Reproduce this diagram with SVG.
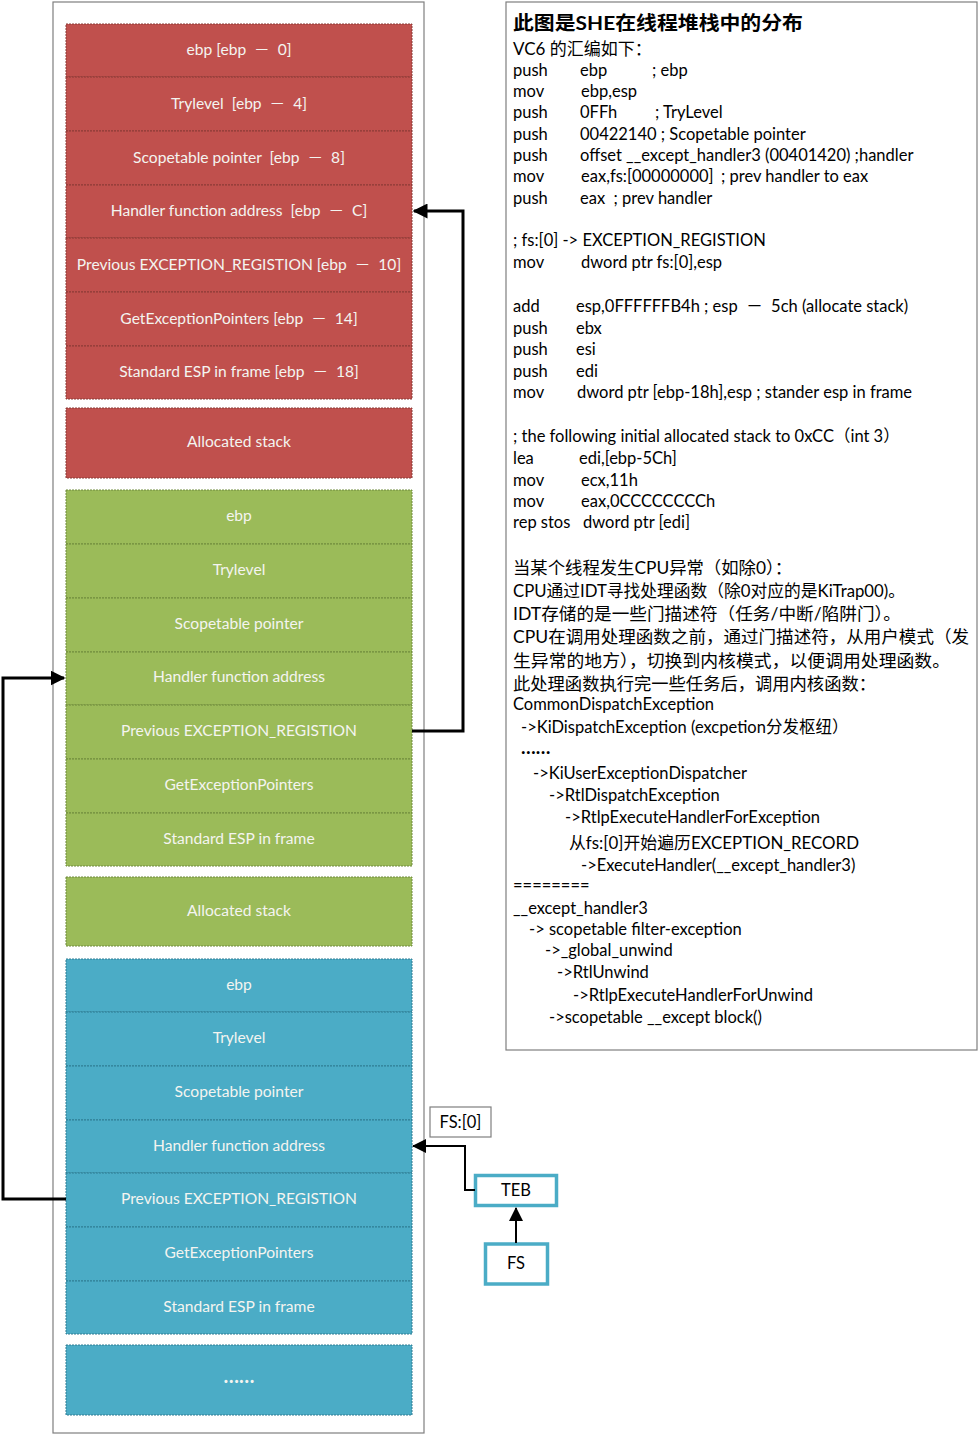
<svg xmlns="http://www.w3.org/2000/svg" width="979" height="1435" viewBox="0 0 979 1435">
<style>
.frame{fill:#fff;stroke:#7f7f7f;stroke-width:1.2}
.r{fill:#C0504D;stroke:#8a3a37;stroke-width:1;stroke-dasharray:2 1}
.g{fill:#9BBB59;stroke:#6f8a3c;stroke-width:1;stroke-dasharray:2 1}
.b{fill:#4BACC6;stroke:#2f7d93;stroke-width:1;stroke-dasharray:2 1}
.ct{font-family:Lato,"Liberation Sans","Noto Sans CJK SC",sans-serif;font-size:15.6px;fill:#F4F4F0;text-anchor:middle;white-space:pre}
.t{font-family:Lato,"Liberation Sans","Noto Sans CJK SC",sans-serif;font-size:16.5px;fill:#000;white-space:pre}
.cn{font-family:Lato,"Noto Sans CJK SC",sans-serif;font-size:17px;fill:#000;white-space:pre}
.conn{fill:none;stroke:#000;stroke-width:3}
.conn2{fill:none;stroke:#000;stroke-width:2}
.tb{fill:#fff;stroke:#4BACC6;stroke-width:3.5}
</style>
<defs>
<marker id="ah" markerWidth="5" markerHeight="5" refX="4.5" refY="2.5" orient="auto" markerUnits="strokeWidth" viewBox="0 0 5 5"><path d="M0,0 L5,2.5 L0,5 z" fill="#000"/></marker>
<marker id="ah2" markerWidth="7" markerHeight="7" refX="6.5" refY="3.5" orient="auto" markerUnits="strokeWidth" viewBox="0 0 7 7"><path d="M0,0 L7,3.5 L0,7 z" fill="#000"/></marker>
</defs>
<rect class="frame" x="53" y="2" width="371" height="1431"/>
<rect class="frame" x="506" y="2" width="471" height="1048"/>

<g id="red-ebp"><rect class="r" x="66" y="24" width="346" height="53"/><text class="ct" x="239" y="55">ebp [ebp  －  0]</text></g>
<g id="red-trylevel"><rect class="r" x="66" y="77" width="346" height="54"/><text class="ct" x="239" y="109">Trylevel  [ebp  －  4]</text></g>
<g id="red-scopetable"><rect class="r" x="66" y="131" width="346" height="54"/><text class="ct" x="239" y="163">Scopetable pointer  [ebp  －  8]</text></g>
<g id="red-handler"><rect class="r" x="66" y="185" width="346" height="53"/><text class="ct" x="239" y="216">Handler function address  [ebp  －  C]</text></g>
<g id="red-prev"><rect class="r" x="66" y="238" width="346" height="54"/><text class="ct" x="239" y="270">Previous EXCEPTION_REGISTION [ebp  －  10]</text></g>
<g id="red-getexc"><rect class="r" x="66" y="292" width="346" height="54"/><text class="ct" x="239" y="324">GetExceptionPointers [ebp  －  14]</text></g>
<g id="red-esp"><rect class="r" x="66" y="346" width="346" height="53"/><text class="ct" x="239" y="377">Standard ESP in frame [ebp  －  18]</text></g>
<g id="red-alloc"><rect class="r" x="66" y="408" width="346" height="70"/><text class="ct" x="239" y="447">Allocated stack</text></g>

<g id="green-ebp"><rect class="g" x="66" y="490" width="346" height="54"/><text class="ct" x="239" y="521">ebp</text></g>
<g id="green-trylevel"><rect class="g" x="66" y="544" width="346" height="54"/><text class="ct" x="239" y="575">Trylevel</text></g>
<g id="green-scopetable"><rect class="g" x="66" y="598" width="346" height="54"/><text class="ct" x="239" y="629">Scopetable pointer</text></g>
<g id="green-handler"><rect class="g" x="66" y="652" width="346" height="53"/><text class="ct" x="239" y="682">Handler function address</text></g>
<g id="green-prev"><rect class="g" x="66" y="705" width="346" height="54"/><text class="ct" x="239" y="736">Previous EXCEPTION_REGISTION</text></g>
<g id="green-getexc"><rect class="g" x="66" y="759" width="346" height="54"/><text class="ct" x="239" y="790">GetExceptionPointers</text></g>
<g id="green-esp"><rect class="g" x="66" y="813" width="346" height="53"/><text class="ct" x="239" y="844">Standard ESP in frame</text></g>
<g id="green-alloc"><rect class="g" x="66" y="877" width="346" height="69"/><text class="ct" x="239" y="916">Allocated stack</text></g>

<g id="blue-ebp"><rect class="b" x="66" y="959" width="346" height="53"/><text class="ct" x="239" y="990">ebp</text></g>
<g id="blue-trylevel"><rect class="b" x="66" y="1012" width="346" height="54"/><text class="ct" x="239" y="1043">Trylevel</text></g>
<g id="blue-scopetable"><rect class="b" x="66" y="1066" width="346" height="54"/><text class="ct" x="239" y="1097">Scopetable pointer</text></g>
<g id="blue-handler"><rect class="b" x="66" y="1120" width="346" height="53"/><text class="ct" x="239" y="1151">Handler function address</text></g>
<g id="blue-prev"><rect class="b" x="66" y="1173" width="346" height="54"/><text class="ct" x="239" y="1204">Previous EXCEPTION_REGISTION</text></g>
<g id="blue-getexc"><rect class="b" x="66" y="1227" width="346" height="54"/><text class="ct" x="239" y="1258">GetExceptionPointers</text></g>
<g id="blue-esp"><rect class="b" x="66" y="1281" width="346" height="53"/><text class="ct" x="239" y="1312">Standard ESP in frame</text></g>
<g id="blue-more"><rect class="b" x="66" y="1345" width="346" height="70"/><text class="ct" x="239" y="1383" style="font-weight:bold;font-size:20px">……</text></g>

<g id="fs0-label"><rect x="430" y="1107" width="61" height="30" fill="#fff" stroke="#7f7f7f" stroke-width="1.2"/><text class="t" x="460.5" y="1128" text-anchor="middle" font-size="15.5">FS:[0]</text></g>
<g id="teb"><rect class="tb" x="475.5" y="1175.5" width="81" height="30"/><text class="t" x="516" y="1196" text-anchor="middle" fill="#1f3b4d" font-size="15.5">TEB</text></g>
<g id="fs"><rect class="tb" x="485.5" y="1244" width="62" height="40"/><text class="t" x="516" y="1269" text-anchor="middle" fill="#1f3b4d" font-size="15.5">FS</text></g>

<g id="connectors">
<path class="conn" d="M412,731 H463 V211 H414" marker-end="url(#ah)"/>
<path class="conn" d="M66,1199 H3 V678 H64" marker-end="url(#ah)"/>
<path class="conn2" d="M475,1190 H465 V1146 H413" marker-end="url(#ah2)"/>
<path class="conn2" d="M516,1243 V1208" marker-end="url(#ah2)"/>
</g>

<g id="notes">
<text x="513" y="30" font-family="Lato,'Noto Sans CJK SC',sans-serif" font-size="19" font-weight="bold" textLength="290" lengthAdjust="spacingAndGlyphs">此图是SHE在线程堆栈中的分布</text>
<text class="cn" x="513" y="55" font-size="16">VC6 的汇编如下：</text>
<text class="t" y="76"><tspan x="513">push</tspan><tspan x="580">ebp</tspan><tspan x="652">; ebp</tspan></text>
<text class="t" y="97"><tspan x="513">mov</tspan><tspan x="581">ebp,esp</tspan></text>
<text class="t" y="118"><tspan x="513">push</tspan><tspan x="580">0FFh</tspan><tspan x="655">; TryLevel</tspan></text>
<text class="t" y="140"><tspan x="513">push</tspan><tspan x="580">00422140 ; Scopetable pointer</tspan></text>
<text class="t" y="161"><tspan x="513">push</tspan><tspan x="580">offset __except_handler3 (00401420) ;handler</tspan></text>
<text class="t" y="182"><tspan x="513">mov</tspan><tspan x="581">eax,fs:[00000000]</tspan><tspan x="721">; prev handler to eax</tspan></text>
<text class="t" y="204"><tspan x="513">push</tspan><tspan x="580">eax  ; prev handler</tspan></text>
<text class="t" x="513" y="246">; fs:[0] -&gt; EXCEPTION_REGISTION</text>
<text class="t" y="268"><tspan x="513">mov</tspan><tspan x="581">dword ptr fs:[0],esp</tspan></text>
<text class="t" y="312"><tspan x="513">add</tspan><tspan x="576">esp,0FFFFFFB4h ; esp  －  5ch (allocate stack)</tspan></text>
<text class="t" y="334"><tspan x="513">push</tspan><tspan x="576">ebx</tspan></text>
<text class="t" y="355"><tspan x="513">push</tspan><tspan x="576">esi</tspan></text>
<text class="t" y="377"><tspan x="513">push</tspan><tspan x="576">edi</tspan></text>
<text class="t" y="398"><tspan x="513">mov</tspan><tspan x="577">dword ptr [ebp-18h],esp ; stander esp in frame</tspan></text>
<text class="t" x="513" y="442">; the following initial allocated stack to 0xCC（int 3）</text>
<text class="t" y="464"><tspan x="513">lea</tspan><tspan x="579">edi,[ebp-5Ch]</tspan></text>
<text class="t" y="486"><tspan x="513">mov</tspan><tspan x="581">ecx,11h</tspan></text>
<text class="t" y="507"><tspan x="513">mov</tspan><tspan x="581">eax,0CCCCCCCCh</tspan></text>
<text class="t" y="528"><tspan x="513">rep stos</tspan><tspan x="583">dword ptr [edi]</tspan></text>
<text class="cn" x="513" y="574" textLength="279" lengthAdjust="spacingAndGlyphs">当某个线程发生CPU异常（如除0）：</text>
<text class="cn" x="513" y="597" textLength="392" lengthAdjust="spacingAndGlyphs">CPU通过IDT寻找处理函数（除0对应的是KiTrap00)。</text>
<text class="cn" x="513" y="620" textLength="388" lengthAdjust="spacingAndGlyphs">IDT存储的是一些门描述符（任务/中断/陷阱门）。</text>
<text class="cn" x="513" y="643" textLength="456" lengthAdjust="spacingAndGlyphs">CPU在调用处理函数之前，通过门描述符，从用户模式（发</text>
<text class="cn" x="513" y="667" textLength="437" lengthAdjust="spacingAndGlyphs">生异常的地方），切换到内核模式，以便调用处理函数。</text>
<text class="cn" x="513" y="690" textLength="363" lengthAdjust="spacingAndGlyphs">此处理函数执行完一些任务后，调用内核函数：</text>
<text class="t" x="513" y="710">CommonDispatchException</text>
<text class="t" x="521" y="733">-&gt;KiDispatchException (excpetion分发枢纽）</text>
<text class="t" x="521" y="754" style="font-weight:bold;font-size:19px">……</text>
<text class="t" x="533" y="779">-&gt;KiUserExceptionDispatcher</text>
<text class="t" x="549" y="801">-&gt;RtlDispatchException</text>
<text class="t" x="565" y="823">-&gt;RtlpExecuteHandlerForException</text>
<text class="cn" x="569" y="849" textLength="290" lengthAdjust="spacingAndGlyphs">从fs:[0]开始遍历EXCEPTION_RECORD</text>
<text class="t" x="581" y="871">-&gt;ExecuteHandler(__except_handler3)</text>
<text class="t" x="513" y="891">========</text>
<text class="t" x="513" y="914">__except_handler3</text>
<text class="t" x="529" y="935">-&gt; scopetable filter-exception</text>
<text class="t" x="545" y="956">-&gt;_global_unwind</text>
<text class="t" x="557" y="978">-&gt;RtlUnwind</text>
<text class="t" x="573" y="1001">-&gt;RtlpExecuteHandlerForUnwind</text>
<text class="t" x="549" y="1023">-&gt;scopetable __except block()</text>
</g>
</svg>
